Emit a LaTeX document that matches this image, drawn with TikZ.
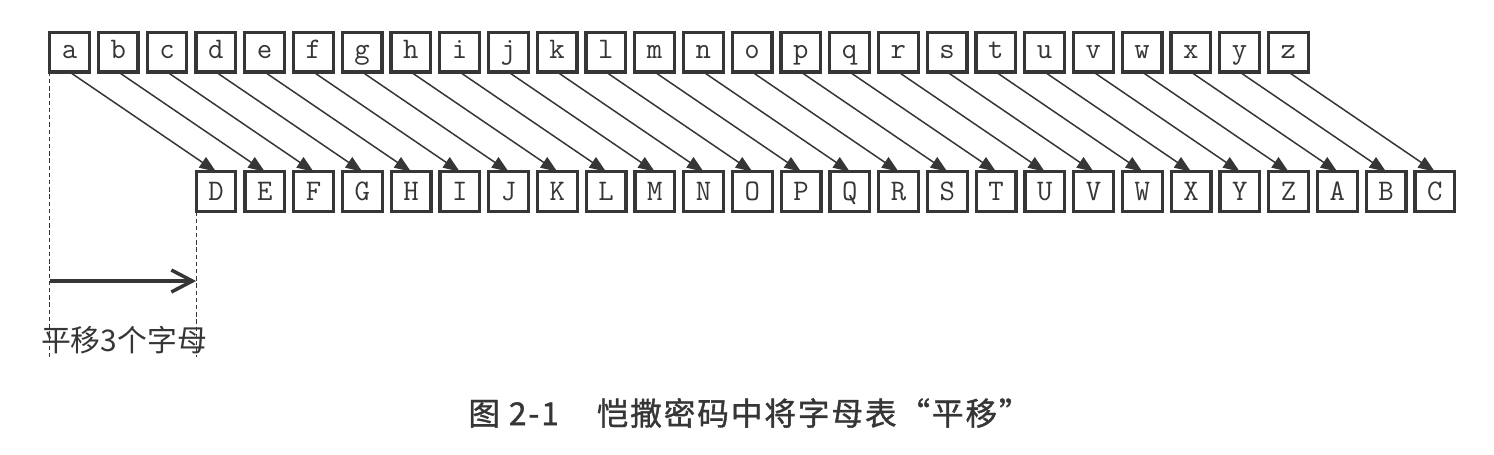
\documentclass[tikz,border=0pt]{standalone}
\usepackage{fontspec}
\newfontfamily\cjk{Noto Sans CJK SC}
\newfontfamily\cjkcap[LetterSpace=6, FakeBold=1.2]{Noto Sans CJK SC}
\usepackage{tikz}
\usetikzlibrary{calc, positioning, arrows.meta}
\definecolor{ink}{HTML}{363636}
\tikzstyle{letterbox}=[draw=ink, line width=0.065cm, minimum size=0.795cm, inner sep=0pt, outer sep=0pt, text=ink, font=\ttfamily\fontsize{17}{20}\selectfont]
\tikzstyle{lowbox}=[letterbox, text height=7.8pt, text depth=0pt]
\tikzstyle{capbox}=[letterbox, text height=10.4pt, text depth=0pt]
\tikzstyle{mapline}=[ink, line width=0.03cm, -{Triangle[length=0.33cm,width=0.25cm]}]
\tikzstyle{guide}=[ink, line width=0.02cm, dash pattern=on 2.5pt off 1.6pt]

\begin{document}
\begin{tikzpicture}[x=0.02cm, y=-0.02cm]
		\useasboundingbox (0,0) rectangle (1494,454);

		\foreach \x / \y [count=\i from 0] in {a/D,b/E,c/F,d/G,e/H,f/I,g/J,h/K,i/L,j/M,k/N,l/O,m/P,n/Q,o/R,p/S,q/T,r/U,s/V,t/W,u/X,v/Y,w/Z,x/A,y/B,z/C} {
		\node[lowbox] (t-\i) at ({69.5+48.75*\i}, 52) {\x};
		\node[capbox] (b-\i) at ({216+48.75*\i}, 191.5) {\y};
		\draw[mapline] (t-\i.south) -- (b-\i.north);
		}

		% shift of three letters
		\draw[guide] (t-0.south west) -- (t-0.south west |- 0,357);
		\draw[guide] (b-0.south west) -- (b-0.south west |- 0,357);
		\draw[ink, line width=0.07cm, -{Straight Barb[length=0.42cm,width=0.44cm]}] (t-0.south west |- 0,281) -- (b-0.south west |- 0,281);

		\node[text=ink, font=\cjk\fontsize{17}{20}\selectfont] (lbl) at (124, 340) {平移3个字母};
		\node[text=ink, anchor=west, inner sep=0pt, font=\cjkcap\fontsize{18}{21}\selectfont] (cap) at (468, 413) {图 2-1\hspace{1.2em}恺撒密码中将字母表“平移”};
	\end{tikzpicture}
\end{document}
